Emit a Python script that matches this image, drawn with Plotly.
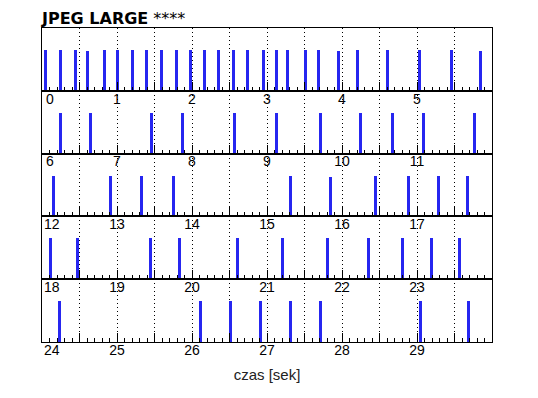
import plotly.graph_objects as go
from plotly.subplots import make_subplots

# ---- data -------------------------------------------------------------
frame_times = [
    0.053, 0.253, 0.44, 0.60, 0.827, 1.00, 1.20, 1.396, 1.596, 1.796,
    1.98, 2.17, 2.355, 2.555, 2.746, 2.955, 3.12, 3.267, 3.507, 3.693,
    3.956, 4.20, 4.613, 5.032, 5.463, 5.853,
    6.253, 6.653, 7.459, 7.867, 8.565, 9.133, 9.707, 10.253, 10.667,
    11.093, 11.765,
    12.147, 12.907, 13.333, 13.747, 15.307, 15.853, 16.453, 16.893,
    17.28, 17.667,
    18.112, 18.467, 19.453, 19.827, 20.60, 21.20, 21.80, 22.347, 22.813,
    23.187, 23.56,
    24.227, 26.107, 26.507, 26.907, 27.307, 27.707, 29.053, 29.68,
]
frame_sizes = [
    100, 100, 100, 97, 100, 100, 100, 100, 100, 100,
    100, 100, 100, 100, 100, 100, 100, 100, 100, 100,
    97, 100, 100, 100, 100, 97,
    100, 100, 100, 100, 100, 100, 100, 100, 100,
    100, 100,
    100, 100, 100, 100, 100, 98, 100, 100,
    100, 100,
    100, 100, 100, 100, 100, 100, 100, 100, 100,
    100, 100,
    100, 100, 100, 100, 100, 100, 100, 100,
]
row_starts = [0, 6, 12, 18, 24]
row_length = 6
title_text = "<b>JPEG LARGE</b> ****"
x_title = "czas [sek]"

# ---- figure -----------------------------------------------------------
W, H = 530, 390
n_rows = len(row_starts)
fig = make_subplots(rows=n_rows, cols=1, vertical_spacing=0, shared_xaxes=False)

bar_color = "#2626f0"
tick_font = dict(family="Liberation Sans, Arial, sans-serif", size=14, color="black")
ymax = max(frame_sizes) * 1.53

for i, start in enumerate(row_starts):
    r = i + 1
    end = start + row_length
    xs = [t for t in frame_times if start <= t < end]
    ys = [s for t, s in zip(frame_times, frame_sizes) if start <= t < end]
    fig.add_trace(
        go.Bar(x=xs, y=ys, width=0.04, marker=dict(color=bar_color, line=dict(width=0)),
               showlegend=False, hoverinfo="x+y"),
        row=r, col=1,
    )
    tickvals = [start + k * 0.5 for k in range(2 * row_length + 1)]
    ticktext = []
    for v in tickvals:
        if abs(v - round(v)) < 1e-9 and v < end:
            lbl = str(int(round(v)))
            if v == start:
                lbl = "\u00a0" * (3 + len(lbl)) + lbl
            ticktext.append(lbl)
        else:
            ticktext.append("")
    fig.update_xaxes(
        range=[start, end], tickmode="array", tickvals=tickvals, ticktext=ticktext,
        ticks="inside", ticklen=9, tickwidth=1, tickcolor="black",
        showline=True, linecolor="black", linewidth=1, mirror=True,
        showgrid=True, gridcolor="black", gridwidth=1, griddash="1px,3px",
        zeroline=False, tickfont=tick_font, tickangle=0, automargin=False,
        ticklabelstandoff=-5,
        minor=dict(dtick=0.1, tick0=0, ticks="inside", ticklen=4, tickcolor="black",
                   tickwidth=1, showgrid=False),
        row=r, col=1,
    )
    fig.update_yaxes(
        range=[0, ymax], showticklabels=False, ticks="", showgrid=False,
        zeroline=False, showline=True, linecolor="black", linewidth=1, mirror=True,
        automargin=False,
        row=r, col=1,
    )

fig.update_xaxes(
    title=dict(text=x_title, standoff=12,
               font=dict(family="Liberation Sans, Arial, sans-serif", size=15, color="#222")),
    row=n_rows, col=1,
)

fig.update_layout(
    width=W, height=H,
    margin=dict(l=34, r=46, t=20, b=56),
    paper_bgcolor="white", plot_bgcolor="white",
    bargap=0,
    title=dict(text=title_text, x=34 / W, xanchor="left", xref="container",
               y=1 - 10 / H, yanchor="middle", yref="container",
               font=dict(family="DejaVu Sans, Verdana, sans-serif", size=16, color="black")),
)

fig.write_html("out.html")
